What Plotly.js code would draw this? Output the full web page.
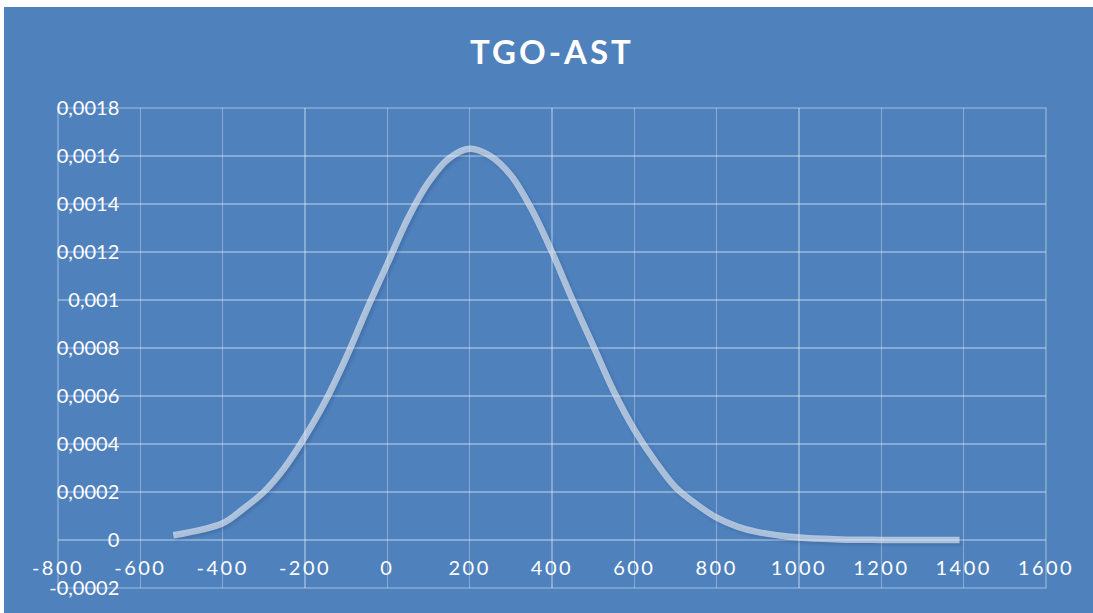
<!DOCTYPE html>
<html>
<head>
<meta charset="utf-8">
<script src="https://cdn.plot.ly/plotly-3.0.1.min.js"></script>
<style>
  html, body { margin: 0; padding: 0; background: #ffffff; width: 1093px; height: 613px; overflow: hidden; }
  #chart { position: absolute; left: 4px; top: 7px; width: 1089px; height: 606px; }
  .xtick text { letter-spacing: 2.5px; }
  .gtitle { letter-spacing: 3px; }
  .scatterlayer .trace path.js-line { filter: drop-shadow(2px 2px 1.5px rgba(20,45,85,0.35)); }
</style>
</head>
<body>
<div id="chart"></div>
<script>
// Data (TGO-AST density curve)
const xValues = [-520, -400, -350, -300, -250, -200, -150, -100, -50, 0, 50, 100, 150, 200, 250, 300, 350, 400, 450, 500, 550, 600, 650, 700, 750, 800, 850, 900, 1000, 1100, 1200, 1390];
const yValues = [0.00002, 0.00007, 0.00013, 0.0002, 0.0003, 0.00043, 0.00058, 0.00076, 0.00096, 0.00115, 0.00134, 0.00149, 0.00159, 0.00163, 0.0016, 0.00152, 0.00138, 0.0012, 0.001, 0.00081, 0.00062, 0.00046, 0.00033, 0.00022, 0.00015, 0.000093, 0.000056, 0.000033, 0.00001, 0.0000024, 0.0000005, 0.0];

const xTickVals = [-800, -600, -400, -200, 0, 200, 400, 600, 800, 1000, 1200, 1400, 1600];
const xTickLabels = ['-800', '-600', '-400', '-200', '0', '200', '400', '600', '800', '1000', '1200', '1400', '1600'];
const yTickVals = [-0.0002, 0, 0.0002, 0.0004, 0.0006, 0.0008, 0.001, 0.0012, 0.0014, 0.0016, 0.0018];
const yTickLabels = ['-0,0002', '0', '0,0002', '0,0004', '0,0006', '0,0008', '0,001', '0,0012', '0,0014', '0,0016', '0,0018'];

const titleText = 'TGO-AST';

const bg = '#4f81bd';
const grid = 'rgba(255,255,255,0.32)';

const trace = {
  x: xValues,
  y: yValues,
  type: 'scatter',
  mode: 'lines',
  line: { shape: 'spline', smoothing: 1, color: 'rgba(255,255,255,0.55)', width: 6.5 },
  hoverinfo: 'skip',
  showlegend: false
};

const layout = {
  width: 1089,
  height: 606,
  paper_bgcolor: bg,
  plot_bgcolor: bg,
  margin: { l: 54, r: 47, t: 101, b: 25, pad: 0 },
  showlegend: false,
  title: {
    text: titleText,
    font: { family: 'Lato', size: 33, color: '#ffffff', weight: 'bold' },
    x: 0.5, xref: 'paper', xanchor: 'center',
    y: 1 - 45 / 606, yref: 'container', yanchor: 'middle'
  },
  xaxis: {
    range: [-800, 1600],
    tickmode: 'array',
    tickvals: xTickVals,
    ticktext: xTickLabels,
    showgrid: true,
    gridcolor: grid,
    gridwidth: 1.5,
    zeroline: false,
    showline: false,
    ticks: '',
    anchor: 'free',
    position: 0.1,
    ticklabelstandoff: 14,
    tickfont: { family: 'Lato', size: 20, color: '#ffffff' },
    fixedrange: true,
    automargin: false
  },
  yaxis: {
    range: [-0.0002, 0.0018],
    tickmode: 'array',
    tickvals: yTickVals,
    ticktext: yTickLabels,
    showgrid: true,
    gridcolor: grid,
    gridwidth: 1.5,
    zeroline: false,
    showline: false,
    ticks: '',
    anchor: 'free',
    position: 0.062,
    tickfont: { family: 'Lato', size: 20, color: '#ffffff' },
    fixedrange: true,
    automargin: false
  },
  shapes: [{
    type: 'rect', xref: 'paper', yref: 'paper', x0: 0, x1: 1, y0: 0, y1: 1,
    line: { color: grid, width: 1.5 }, fillcolor: 'rgba(0,0,0,0)', layer: 'below'
  }]
};

Plotly.newPlot('chart', [trace], layout, { staticPlot: true, displayModeBar: false });
</script>
</body>
</html>
